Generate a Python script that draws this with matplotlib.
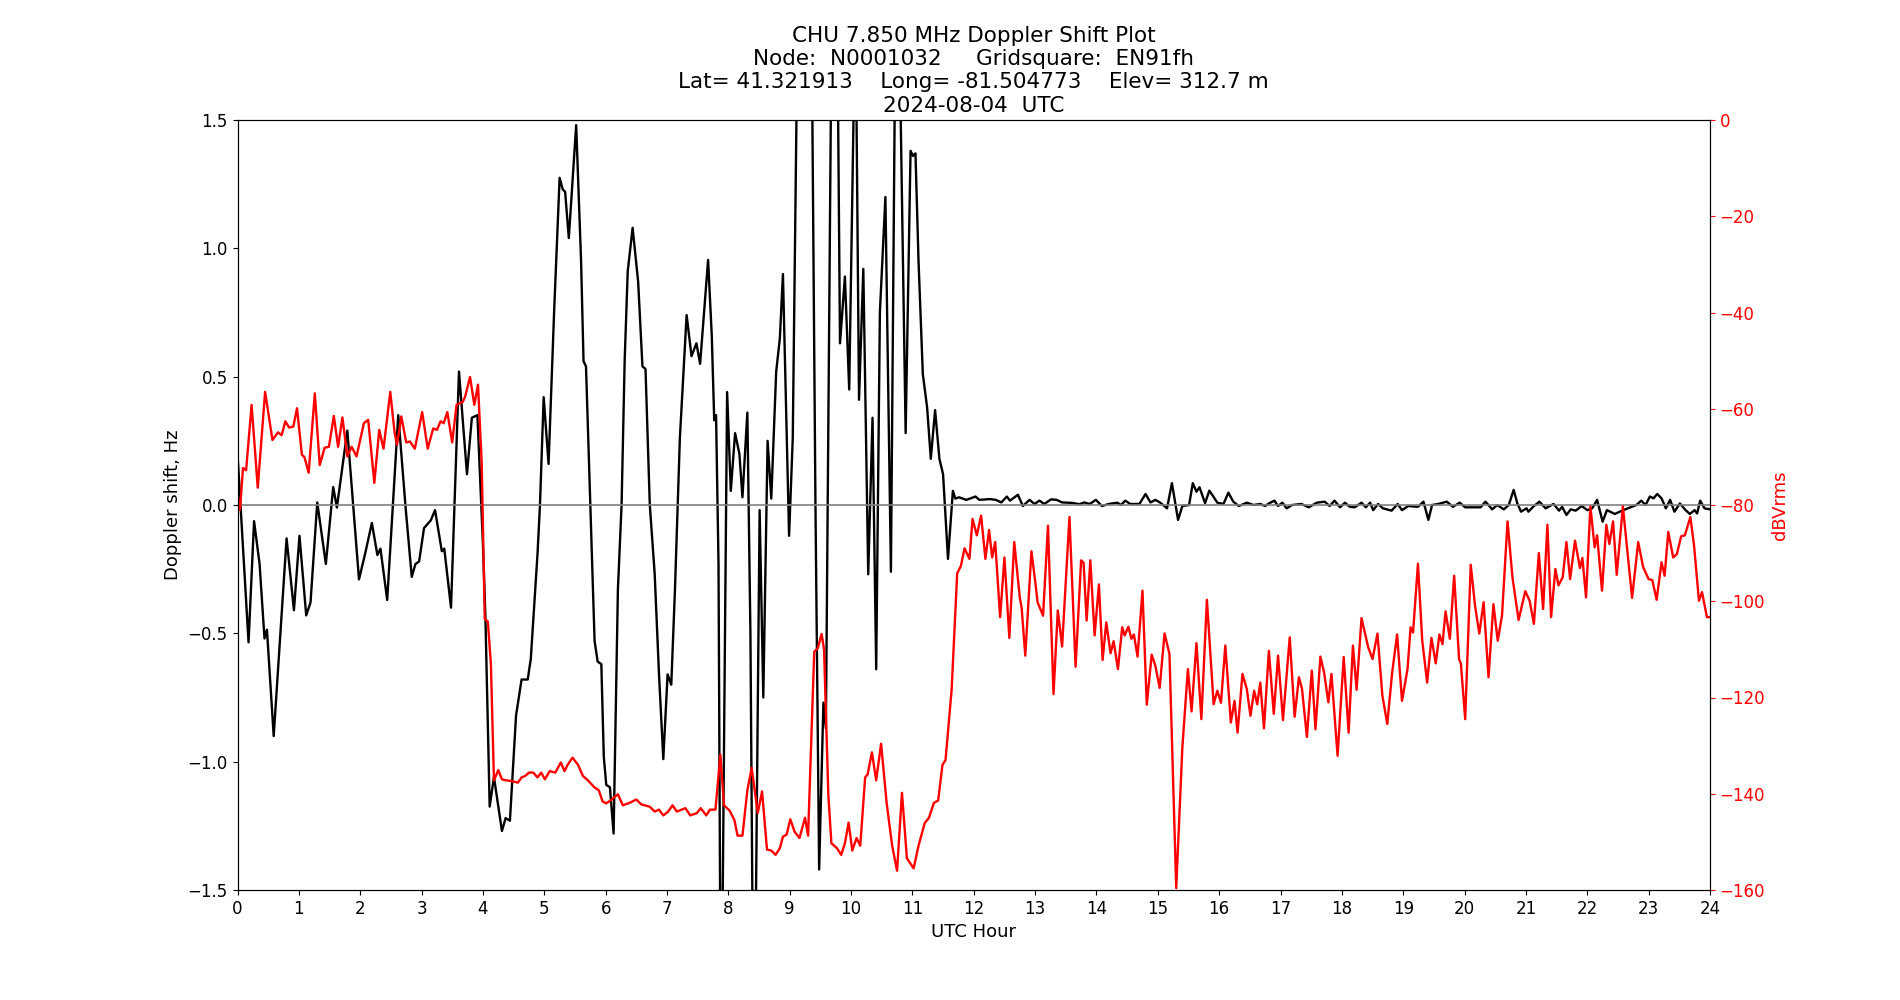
import matplotlib
matplotlib.use("Agg")
import matplotlib.pyplot as plt

# ---------------- data ----------------
# Doppler shift (Hz) : (UTC hour, value) pairs
doppler_points = [
    (0.00, 0.20), (0.18, -0.535), (0.27, -0.063), (0.36, -0.23), (0.44, -0.52), (0.48, -0.486),
    (0.59, -0.90), (0.80, -0.13), (0.92, -0.41), (1.01, -0.12), (1.12, -0.43), (1.19, -0.38),
    (1.30, 0.01), (1.44, -0.23), (1.56, 0.07), (1.62, -0.01), (1.79, 0.29), (1.98, -0.29),
    (2.08, -0.19), (2.19, -0.07), (2.28, -0.195), (2.33, -0.17), (2.44, -0.37), (2.62, 0.35),
    (2.74, -0.01), (2.84, -0.28), (2.90, -0.23), (2.96, -0.22), (3.04, -0.09), (3.15, -0.06),
    (3.22, -0.02), (3.33, -0.18), (3.37, -0.17), (3.48, -0.40), (3.61, 0.52), (3.74, 0.12),
    (3.82, 0.34), (3.91, 0.35), (4.00, -0.15), (4.04, -0.43), (4.11, -1.175), (4.18, -1.06),
    (4.31, -1.27), (4.37, -1.22), (4.44, -1.23), (4.54, -0.82), (4.63, -0.68), (4.73, -0.68),
    (4.78, -0.60), (4.89, -0.19), (4.93, 0.0), (4.99, 0.42), (5.07, 0.16), (5.16, 0.75),
    (5.25, 1.275), (5.30, 1.23), (5.34, 1.22), (5.40, 1.04), (5.52, 1.48), (5.60, 0.95),
    (5.64, 0.56), (5.68, 0.54), (5.75, 0.0), (5.82, -0.53), (5.87, -0.61), (5.93, -0.62),
    (5.97, -0.98), (6.01, -1.09), (6.07, -1.10), (6.13, -1.28), (6.20, -0.33), (6.26, 0.0),
    (6.31, 0.56), (6.36, 0.91), (6.44, 1.08), (6.53, 0.87), (6.60, 0.54), (6.65, 0.53),
    (6.72, 0.0), (6.80, -0.27), (6.87, -0.66), (6.94, -0.99), (7.01, -0.66), (7.07, -0.70),
    (7.13, -0.33), (7.21, 0.26), (7.32, 0.74), (7.40, 0.58), (7.48, 0.63), (7.54, 0.55),
    (7.67, 0.955), (7.73, 0.66), (7.77, 0.33), (7.80, 0.35), (7.84, -0.23), (7.87, -1.75),
    (7.90, -1.75), (7.98, 0.44), (8.04, 0.055), (8.11, 0.28), (8.18, 0.20), (8.23, 0.03),
    (8.31, 0.36), (8.36, -0.5), (8.40, -1.8), (8.44, -1.8), (8.51, -0.02), (8.57, -0.75),
    (8.64, 0.25), (8.70, 0.025), (8.78, 0.52), (8.84, 0.65), (8.89, 0.90), (8.99, -0.12),
    (9.05, 0.26), (9.11, 1.5), (9.14, 1.9), (9.34, 1.9), (9.37, 1.5), (9.42, 0.0),
    (9.48, -1.42), (9.55, -0.77), (9.59, -0.87), (9.67, 1.5), (9.70, 1.9), (9.76, 1.9),
    (9.79, 1.5), (9.82, 0.63), (9.90, 0.89), (9.97, 0.45), (10.04, 1.5), (10.06, 1.8),
    (10.09, 1.5), (10.13, 0.41), (10.20, 0.92), (10.28, -0.27), (10.35, 0.34), (10.41, -0.64),
    (10.47, 0.75), (10.56, 1.20), (10.65, -0.26), (10.71, 1.5), (10.76, 1.9), (10.81, 1.5),
    (10.89, 0.28), (10.97, 1.38), (11.01, 1.36), (11.05, 1.37), (11.10, 0.95), (11.17, 0.51),
    (11.24, 0.38), (11.30, 0.18), (11.37, 0.37), (11.44, 0.18), (11.50, 0.12), (11.58, -0.21),
    (11.66, 0.055), (11.70, 0.025), (11.76, 0.03), (11.82, 0.025), (11.88, 0.02),
    (12.03, 0.033), (12.09, 0.02), (12.26, 0.023), (12.36, 0.02), (12.45, 0.01), (12.54, 0.033),
    (12.59, 0.017), (12.72, 0.04), (12.80, -0.004), (12.91, 0.02), (12.99, 0.004), (13.07, 0.017),
    (13.15, 0.004), (13.26, 0.022), (13.35, 0.02), (13.44, 0.01), (13.61, 0.008), (13.72, 0.003),
    (13.80, 0.01), (13.89, 0.004), (13.99, 0.02), (14.09, -0.004), (14.20, 0.004), (14.34, 0.009),
    (14.40, 0.0), (14.47, 0.017), (14.55, 0.004), (14.70, 0.004), (14.80, 0.043), (14.88, 0.01),
    (14.96, 0.02), (15.04, 0.009), (15.15, -0.013), (15.23, 0.085), (15.33, -0.058), (15.40, -0.004),
    (15.51, 0.0), (15.57, 0.085), (15.63, 0.052), (15.68, 0.069), (15.77, 0.007), (15.84, 0.056),
    (15.90, 0.035), (15.97, 0.009), (16.07, 0.004), (16.15, 0.048), (16.23, 0.013), (16.32, -0.004),
    (16.45, 0.009), (16.56, 0.0), (16.67, 0.004), (16.75, -0.004), (16.81, 0.006), (16.90, 0.017),
    (16.96, -0.004), (17.03, 0.009), (17.10, -0.013), (17.19, 0.0), (17.34, 0.004), (17.46, -0.009),
    (17.59, 0.009), (17.72, 0.013), (17.80, -0.004), (17.88, 0.017), (17.97, -0.009), (18.05, 0.009),
    (18.13, -0.007), (18.21, -0.009), (18.32, 0.009), (18.39, -0.009), (18.46, 0.009), (18.51, -0.02),
    (18.59, 0.004), (18.67, -0.013), (18.81, -0.022), (18.91, 0.004), (18.98, -0.02), (19.08, -0.004),
    (19.24, -0.007), (19.33, 0.013), (19.41, -0.058), (19.47, 0.0), (19.57, 0.004), (19.71, 0.013),
    (19.81, -0.007), (19.92, 0.009), (20.01, -0.009), (20.15, -0.009), (20.26, -0.009), (20.34, 0.013),
    (20.45, -0.017), (20.53, 0.0), (20.64, -0.017), (20.72, 0.0), (20.80, 0.059), (20.86, 0.006),
    (20.92, -0.026), (21.01, -0.013), (21.04, -0.026), (21.13, -0.004), (21.22, 0.013), (21.32, -0.013),
    (21.45, 0.004), (21.54, -0.022), (21.59, -0.007), (21.66, -0.039), (21.73, -0.017), (21.81, -0.022),
    (21.91, -0.004), (22.00, -0.02), (22.08, -0.013), (22.16, 0.02), (22.25, -0.065), (22.32, -0.02),
    (22.45, -0.035), (22.53, -0.026), (22.66, -0.013), (22.80, 0.0), (22.88, 0.017), (22.95, 0.0),
    (23.02, 0.033), (23.08, 0.026), (23.14, 0.043), (23.21, 0.026), (23.28, -0.013), (23.35, 0.02),
    (23.42, -0.026), (23.51, 0.006), (23.59, -0.017), (23.67, -0.035), (23.75, -0.02), (23.79, -0.033),
    (23.84, 0.017), (23.91, -0.013), (24.00, -0.017),
]

# Received power (dBVrms) : (UTC hour, value) pairs
power_points = [
    (0.00, -78.0), (0.04, -81.0), (0.09, -72.3), (0.14, -72.8), (0.23, -59.2), (0.33, -76.4),
    (0.45, -56.5), (0.57, -66.5), (0.66, -64.9), (0.72, -65.5), (0.78, -62.6), (0.84, -63.9),
    (0.91, -63.7), (0.97, -59.9), (1.05, -69.6), (1.09, -70.0), (1.16, -73.3), (1.26, -56.8),
    (1.34, -71.7), (1.42, -68.1), (1.49, -67.9), (1.57, -61.5), (1.64, -67.9), (1.71, -61.8),
    (1.79, -69.9), (1.86, -67.9), (1.94, -69.9), (2.06, -63.0), (2.13, -62.3), (2.23, -75.4),
    (2.31, -64.4), (2.38, -68.3), (2.49, -56.5), (2.56, -64.9), (2.60, -67.5), (2.67, -61.6),
    (2.75, -67.0), (2.81, -66.8), (2.89, -68.3), (3.01, -60.7), (3.10, -68.3), (3.19, -64.1),
    (3.25, -64.4), (3.31, -62.6), (3.36, -63.0), (3.42, -60.7), (3.50, -67.0), (3.57, -59.2),
    (3.67, -58.6), (3.71, -57.5), (3.79, -53.4), (3.86, -59.2), (3.92, -55.0), (3.98, -71.2),
    (4.03, -103.7), (4.08, -104.2), (4.13, -113.0), (4.18, -137.2), (4.25, -135.1), (4.31, -137.0),
    (4.37, -137.2), (4.48, -137.4), (4.57, -137.7), (4.63, -136.6), (4.69, -136.3), (4.75, -135.6),
    (4.82, -135.6), (4.89, -136.6), (4.95, -135.6), (5.01, -137.0), (5.09, -135.3), (5.18, -135.6),
    (5.27, -133.5), (5.33, -135.3), (5.38, -134.0), (5.46, -132.5), (5.55, -134.0), (5.63, -136.3),
    (5.71, -137.2), (5.82, -138.7), (5.89, -139.3), (5.95, -141.6), (6.01, -142.0), (6.09, -141.3),
    (6.20, -140.1), (6.28, -142.4), (6.39, -141.9), (6.50, -141.2), (6.58, -142.2), (6.72, -142.7),
    (6.80, -143.7), (6.87, -143.3), (6.94, -144.5), (7.02, -143.7), (7.09, -142.4), (7.16, -143.7),
    (7.30, -143.0), (7.38, -144.5), (7.49, -144.0), (7.55, -143.0), (7.64, -144.5), (7.70, -143.3),
    (7.79, -143.3), (7.87, -131.9), (7.93, -142.4), (8.02, -143.5), (8.10, -145.5), (8.15, -148.7),
    (8.23, -148.7), (8.31, -139.3), (8.38, -134.6), (8.48, -144.0), (8.55, -139.5), (8.63, -151.6),
    (8.70, -151.8), (8.77, -152.7), (8.84, -151.3), (8.89, -148.9), (8.95, -148.5), (9.01, -145.3),
    (9.08, -147.9), (9.16, -149.2), (9.25, -145.0), (9.30, -148.7), (9.40, -110.5), (9.46, -109.7),
    (9.52, -106.8), (9.56, -110.0), (9.63, -140.3), (9.68, -150.3), (9.77, -151.3), (9.84, -152.7),
    (9.90, -150.3), (9.96, -146.0), (10.02, -151.8), (10.09, -149.2), (10.15, -150.8), (10.23, -136.6),
    (10.27, -136.0), (10.34, -131.4), (10.41, -137.2), (10.49, -129.6), (10.58, -141.9), (10.67, -150.8),
    (10.75, -156.0), (10.83, -139.8), (10.91, -153.4), (11.02, -155.5), (11.10, -150.8), (11.20, -146.1),
    (11.27, -145.0), (11.35, -141.9), (11.42, -141.4), (11.49, -134.0), (11.54, -133.0), (11.64, -118.3),
    (11.73, -94.2), (11.79, -92.7), (11.85, -89.0), (11.93, -91.2), (11.98, -82.9), (12.05, -86.3),
    (12.12, -82.2), (12.19, -91.2), (12.25, -85.2), (12.30, -90.9), (12.35, -87.7), (12.43, -103.3),
    (12.50, -90.9), (12.58, -107.6), (12.66, -87.7), (12.75, -99.2), (12.78, -101.3), (12.84, -111.3),
    (12.94, -89.6), (13.00, -95.7), (13.04, -100.2), (13.13, -103.0), (13.21, -84.3), (13.30, -119.3),
    (13.37, -101.9), (13.44, -109.4), (13.56, -82.5), (13.66, -113.6), (13.75, -91.5), (13.79, -92.0),
    (13.84, -104.0), (13.90, -91.5), (13.97, -107.1), (14.04, -96.5), (14.10, -112.2), (14.16, -104.4),
    (14.23, -110.8), (14.28, -108.3), (14.35, -114.1), (14.42, -105.4), (14.46, -107.1), (14.52, -105.3),
    (14.57, -107.8), (14.61, -106.9), (14.67, -111.5), (14.75, -97.8), (14.82, -121.5), (14.90, -111.1),
    (14.96, -113.4), (15.03, -118.0), (15.11, -106.7), (15.19, -111.0), (15.30, -159.6), (15.40, -130.4),
    (15.49, -114.1), (15.55, -122.9), (15.63, -108.7), (15.71, -124.5), (15.80, -99.7), (15.91, -121.4),
    (15.97, -118.6), (16.03, -121.1), (16.10, -109.2), (16.19, -125.2), (16.25, -120.7), (16.30, -127.3),
    (16.38, -115.1), (16.45, -118.2), (16.51, -123.8), (16.57, -118.6), (16.62, -121.4), (16.67, -116.9),
    (16.73, -126.4), (16.81, -110.3), (16.89, -123.4), (16.96, -111.3), (17.04, -124.7), (17.15, -107.5),
    (17.23, -124.0), (17.30, -115.8), (17.35, -118.2), (17.43, -128.2), (17.51, -114.4), (17.57, -126.6),
    (17.65, -111.5), (17.71, -114.8), (17.78, -121.0), (17.83, -115.1), (17.93, -132.1), (18.03, -111.6),
    (18.11, -127.3), (18.18, -109.2), (18.24, -118.4), (18.32, -103.5), (18.43, -109.6), (18.50, -112.0),
    (18.58, -106.7), (18.66, -119.6), (18.74, -125.5), (18.82, -114.8), (18.90, -106.9), (18.98, -120.7),
    (19.07, -114.1), (19.12, -105.4), (19.16, -106.5), (19.24, -92.2), (19.31, -108.2), (19.39, -116.9),
    (19.46, -107.6), (19.53, -112.9), (19.59, -106.9), (19.64, -108.9), (19.69, -102.1), (19.76, -107.8),
    (19.83, -94.7), (19.91, -112.0), (19.94, -113.0), (20.01, -124.5), (20.10, -92.4), (20.17, -100.9),
    (20.24, -106.7), (20.31, -100.2), (20.39, -115.8), (20.47, -100.6), (20.54, -108.2), (20.61, -103.0),
    (20.70, -83.4), (20.78, -95.0), (20.88, -103.9), (20.99, -97.9), (21.06, -99.9), (21.13, -104.7),
    (21.21, -90.0), (21.28, -101.6), (21.35, -84.1), (21.41, -103.3), (21.48, -93.3), (21.53, -96.7),
    (21.60, -95.0), (21.66, -87.7), (21.72, -95.4), (21.80, -87.4), (21.88, -93.1), (21.92, -91.0),
    (21.98, -99.2), (22.05, -80.3), (22.12, -88.8), (22.16, -86.3), (22.24, -97.8), (22.31, -84.1),
    (22.36, -88.1), (22.42, -83.4), (22.48, -94.5), (22.58, -80.3), (22.73, -99.3), (22.83, -87.7),
    (22.91, -92.9), (23.00, -95.4), (23.06, -95.6), (23.13, -99.7), (23.21, -91.9), (23.26, -94.7),
    (23.32, -85.6), (23.40, -90.9), (23.46, -90.2), (23.53, -86.5), (23.59, -86.3), (23.68, -82.5),
    (23.74, -88.4), (23.82, -99.9), (23.87, -98.1), (23.95, -103.3), (24.00, -103.3),
]

doppler_hours = [p[0] for p in doppler_points]
doppler_hz = [p[1] for p in doppler_points]
power_hours = [p[0] for p in power_points]
power_dbv = [p[1] for p in power_points]

hour_ticks = list(range(0, 25))
hz_ticks = [-1.5, -1.0, -0.5, 0.0, 0.5, 1.0, 1.5]
db_ticks = [-160, -140, -120, -100, -80, -60, -40, -20, 0]

title_text = ("CHU 7.850 MHz Doppler Shift Plot\n"
              "Node:  N0001032     Gridsquare:  EN91fh\n"
              "Lat= 41.321913    Long= -81.504773    Elev= 312.7 m\n"
              "2024-08-04  UTC")

# ---------------- plot ----------------
fig, ax = plt.subplots(figsize=(19, 10), dpi=100)
ax.plot(doppler_hours, doppler_hz, color="black", linewidth=1.7)
ax.axhline(0, color="grey", linewidth=1.2)
ax.set_xlim(0, 24)
ax.set_ylim(-1.5, 1.5)
ax.set_xticks(hour_ticks)
ax.set_yticks(hz_ticks)
ax.tick_params(labelsize=12)
ax.set_xlabel("UTC Hour", fontsize=13)
ax.set_ylabel("Doppler shift, Hz", fontsize=13)
ax.set_title(title_text, fontsize=15.5)

ax2 = ax.twinx()
ax2.plot(power_hours, power_dbv, color="red", linewidth=1.7)
ax2.set_ylim(-160, 0)
ax2.set_yticks(db_ticks)
ax2.tick_params(axis="y", colors="red", labelsize=12)
ax2.set_ylabel("dBVrms", color="red", fontsize=13)

fig.savefig("out.png", dpi=100)
